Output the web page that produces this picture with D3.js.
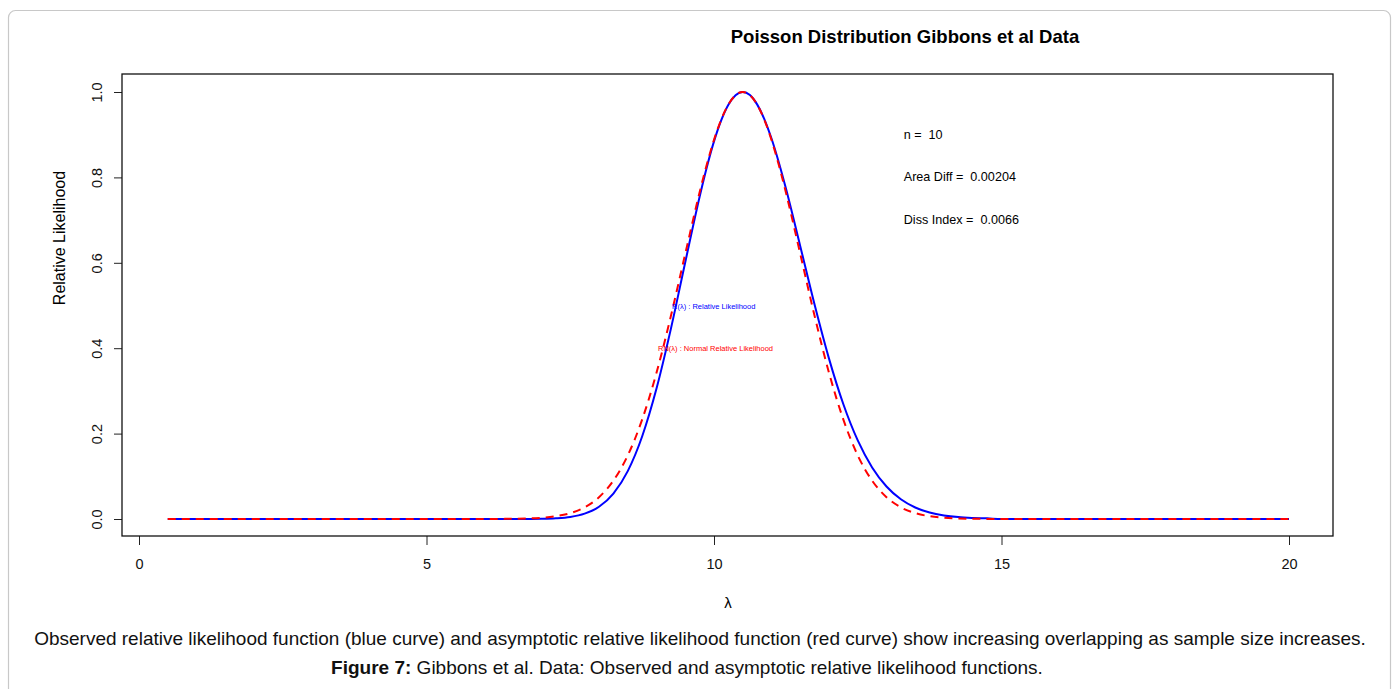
<!DOCTYPE html>
<html>
<head>
<meta charset="utf-8">
<script src="https://cdn.jsdelivr.net/npm/d3@7"></script>
<style>
  body { margin: 0; background: #fff; }
  svg { display: block; font-family: 'Liberation Sans', Arial, sans-serif; }
</style>
</head>
<body>
<div id="chart"></div>
<script>
// lambda grid the curves were read at
const lambdaValues = [0.5, 6.0, 6.25, 6.5, 6.75, 7.0, 7.25, 7.5, 7.75, 8.0, 8.25, 8.5, 8.75,
  9.0, 9.25, 9.5, 9.75, 9.875, 10.0, 10.125, 10.25, 10.375, 10.5, 10.625, 10.75, 10.875, 11.0,
  11.125, 11.25, 11.5, 11.75, 12.0, 12.25, 12.5, 12.75, 13.0, 13.25, 13.5, 13.75, 14.0, 14.25,
  14.5, 14.75, 15.0, 20];
// observed relative likelihood R(lambda), blue
const relLik = [0, 0, 0, 0, 0.0001, 0.0005, 0.0017, 0.0048, 0.0125, 0.0286, 0.0595, 0.1122, 0.1933,
  0.3055, 0.4453, 0.6013, 0.7548, 0.8239, 0.8843, 0.9336, 0.9702, 0.9925, 1.0, 0.9927, 0.9710,
  0.9367, 0.8910, 0.8361, 0.7744, 0.6389, 0.5016, 0.3756, 0.2687, 0.1840, 0.1208, 0.0762,
  0.0462, 0.0270, 0.0152, 0.0083, 0.0044, 0.0025, 0.0015, 0, 0];
// normal relative likelihood RN(lambda), red dashed
const normRelLik = [0, 0.0001, 0.0002, 0.0005, 0.0012, 0.0029, 0.0065, 0.0138, 0.0273, 0.0510,
  0.0898, 0.1488, 0.2327, 0.3425, 0.4752, 0.6211, 0.7650, 0.8303, 0.8878, 0.9352, 0.9707,
  0.9926, 1.0, 0.9926, 0.9707, 0.9352, 0.8878, 0.8303, 0.7650, 0.6211, 0.4752, 0.3425, 0.2327,
  0.1488, 0.0898, 0.0510, 0.0273, 0.0138, 0.0065, 0.0029, 0.0012, 0.0005, 0.0002, 0.0001, 0];
const xTicks = [0, 5, 10, 15, 20];
const yTicks = [0.0, 0.2, 0.4, 0.6, 0.8, 1.0];
const statLines = ['n =  10', 'Area Diff =  0.00204', 'Diss Index =  0.0066'];
const statY = [0.9, 0.8, 0.7];

const W = 1397, H = 689;
const BOX = { left: 122, top: 74, right: 1333, bottom: 536 };
const FONT = "'Liberation Sans', Arial, sans-serif";

const svg = d3.select('#chart').append('svg').attr('width', W).attr('height', H);

// outer page frame
svg.append('rect')
  .attr('x', 8.5).attr('y', 10.5).attr('width', 1382).attr('height', 700)
  .attr('rx', 7)
  .attr('fill', 'none').attr('stroke', '#c8c8c8').attr('stroke-width', 1.2);

const x = d3.scaleLinear().domain([0, 20]).range([139, 1289]);
const y = d3.scaleLinear().domain([0, 1]).range([519, 92]);

// x axis
const gx = svg.append('g')
  .attr('transform', 'translate(0,' + BOX.bottom + ')')
  .call(d3.axisBottom(x).tickValues(xTicks).tickSize(9).tickPadding(14).tickFormat(d3.format('d')));
gx.select('.domain').remove();
gx.selectAll('line').attr('stroke', '#222');
gx.selectAll('text').attr('font-size', 14.5).attr('fill', '#111').style('font-family', FONT);

// y axis
const gy = svg.append('g')
  .attr('transform', 'translate(' + BOX.left + ',0)')
  .call(d3.axisLeft(y).tickValues(yTicks).tickSize(8).tickFormat(d3.format('.1f')));
gy.select('.domain').remove();
gy.selectAll('line').attr('stroke', '#222');
gy.selectAll('text')
  .attr('font-size', 14.5).attr('fill', '#111')
  .style('font-family', FONT)
  .attr('x', null).attr('dy', null)
  .attr('text-anchor', 'middle')
  .attr('transform', 'translate(-20,0) rotate(-90)');

// plot box
svg.append('rect')
  .attr('x', BOX.left).attr('y', BOX.top)
  .attr('width', BOX.right - BOX.left).attr('height', BOX.bottom - BOX.top)
  .attr('fill', 'none').attr('stroke', '#111').attr('stroke-width', 1.3);

const line = d3.line()
  .x((d, i) => x(lambdaValues[i]))
  .y((d) => y(d))
  .curve(d3.curveMonotoneX);

svg.append('path')
  .datum(relLik)
  .attr('d', line)
  .attr('fill', 'none').attr('stroke', '#0000ff').attr('stroke-width', 2);

svg.append('path')
  .datum(normRelLik)
  .attr('d', line)
  .attr('fill', 'none').attr('stroke', '#ff0000').attr('stroke-width', 2)
  .attr('stroke-dasharray', '8,6');

// title and axis labels
svg.append('text')
  .attr('x', 905).attr('y', 43)
  .attr('text-anchor', 'middle').attr('font-weight', 'bold').attr('font-size', 18.5)
  .text('Poisson Distribution Gibbons et al Data');

svg.append('text')
  .attr('transform', 'translate(65,238) rotate(-90)')
  .attr('text-anchor', 'middle').attr('font-size', 16)
  .text('Relative Likelihood');

svg.append('text')
  .attr('x', 728).attr('y', 608)
  .attr('text-anchor', 'middle').attr('font-size', 15)
  .text('λ');

// stats annotation
svg.append('g').selectAll('text')
  .data(statLines)
  .join('text')
  .attr('x', x(13.3)).attr('y', (d, i) => y(statY[i]) + 4)
  .attr('font-size', 12.6)
  .style('white-space', 'pre')
  .text((d) => d);

// curve labels
svg.append('text')
  .attr('x', 672).attr('y', y(0.5) + 3)
  .attr('font-size', 7.5).attr('fill', '#0000ff')
  .text('R(λ) : Relative Likelihood');
svg.append('text')
  .attr('x', 658).attr('y', y(0.4) + 3)
  .attr('font-size', 7.5).attr('fill', '#ff0000')
  .text('RN(λ) : Normal Relative Likelihood');

// caption
svg.append('text')
  .attr('x', 700).attr('y', 645)
  .attr('text-anchor', 'middle').attr('font-size', 19).attr('fill', '#111')
  .text('Observed relative likelihood function (blue curve) and asymptotic relative likelihood function (red curve) show increasing overlapping as sample size increases.');

const cap2 = svg.append('text')
  .attr('x', 687).attr('y', 674)
  .attr('text-anchor', 'middle').attr('font-size', 19).attr('fill', '#111');
cap2.append('tspan').attr('font-weight', 'bold').text('Figure 7:');
cap2.append('tspan').text(' Gibbons et al. Data: Observed and asymptotic relative likelihood functions.');
</script>
</body>
</html>
